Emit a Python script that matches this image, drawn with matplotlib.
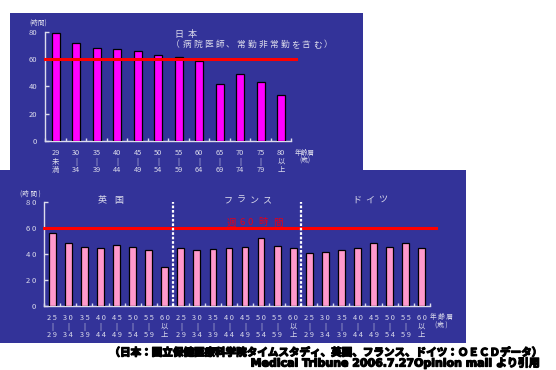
import matplotlib
matplotlib.use("Agg")
import matplotlib.pyplot as plt
import matplotlib.patheffects as pe
from matplotlib.patches import Rectangle

plt.rcParams['font.family'] = ['Noto Sans CJK JP', 'DejaVu Sans']

# ---------------- data ----------------
jp_top = ["29", "30", "35", "40", "45", "50", "55", "60", "65", "70", "75", "80"]
jp_mid = ["未", "|", "|", "|", "|", "|", "|", "|", "|", "|", "|", "以"]
jp_bot = ["満", "34", "39", "44", "49", "54", "59", "64", "69", "74", "79", "上"]
jp_hours = [79, 71.5, 68.3, 67.6, 65.6, 63.2, 61.7, 58.3, 41.7, 48.8, 43.2, 33.4]

eu_top = ["2 5", "3 0", "3 5", "4 0", "4 5", "5 0", "5 5", "6 0"]
eu_mid = ["|", "|", "|", "|", "|", "|", "|", "以"]
eu_bot = ["2 9", "3 4", "3 9", "4 4", "4 9", "5 4", "5 9", "上"]
uk_hours = [56.1, 48.6, 45.3, 44.8, 46.8, 45.3, 43.0, 29.8]
fr_hours = [44.8, 43.0, 44.2, 45.0, 45.3, 52.2, 46.5, 45.0]
de_hours = [41.2, 41.4, 43.2, 45.0, 48.4, 45.3, 48.4, 44.8]
countries = ["英国", "フランス", "ドイツ"]
limit_hours = 60
yticks = [0, 20, 40, 60, 80]

BG = '#333399'
FG = '#DCDCEC'
W, H = 556, 370

fig = plt.figure(figsize=(W / 100, H / 100), dpi=100)
fig.patch.set_facecolor('white')


def fx(x):
    return x / W


def fy(y):
    return 1 - y / H


def ptext(x, y, s, **kw):
    kw.setdefault('color', FG)
    kw.setdefault('ha', 'center')
    kw.setdefault('va', 'center')
    fig.text(fx(x), fy(y), s, **kw)


def spaced(x0, y, s, pitch, **kw):
    for i, ch in enumerate(s):
        ptext(x0 + i * pitch, y, ch, **kw)


# backgrounds
fig.add_artist(Rectangle((fx(10), fy(170)), fx(353), 157 / H, transform=fig.transFigure,
                         facecolor=BG, edgecolor='none', zorder=0))
fig.add_artist(Rectangle((fx(0), fy(343)), fx(466), 173 / H, transform=fig.transFigure,
                         facecolor=BG, edgecolor='none', zorder=0))


def style_axes(ax, n, ylabels):
    ax.set_facecolor('none')
    for s in ['top', 'right']:
        ax.spines[s].set_visible(False)
    for s in ['left', 'bottom']:
        ax.spines[s].set_color(FG)
        ax.spines[s].set_linewidth(1.0)
    ax.set_xlim(-0.5, n - 0.5)
    ax.set_ylim(0, 80)
    ax.set_yticks(yticks, ylabels)
    ax.tick_params(axis='y', direction='in', length=3, width=1, color=FG,
                   labelcolor=FG, labelsize=5.5, pad=6)
    ax.set_xticks([i + 0.5 for i in range(-1, n)], minor=True)
    ax.tick_params(axis='x', which='minor', direction='in', length=2.5, width=1, color=FG)
    ax.tick_params(axis='x', which='major', length=0, labelcolor=FG, labelsize=5.3, pad=6)


# ---------------- top: Japan ----------------
c0, pitch = 55.7, 20.5
n1 = len(jp_hours)
ax1 = fig.add_axes([fx(c0 - pitch / 2), fy(141), n1 * pitch / W, 109.3 / H])
style_axes(ax1, n1, [str(v) for v in yticks])
ax1.bar(range(n1), jp_hours, width=0.39, color='#FF00FF', edgecolor='black', linewidth=0.9, zorder=3)
ax1.set_xticks(range(n1), [f"{a}\n{b}\n{c}" for a, b, c in zip(jp_top, jp_mid, jp_bot)])
for t in ax1.get_xticklabels():
    t.set_linespacing(1.05)
ax1.plot([-0.5, 11.7], [limit_hours, limit_hours], color='#FF0000', lw=2.2, clip_on=False, zorder=4)

ptext(38, 23, "(時間)", fontsize=4.8)
spaced(179, 34, "日本", 12.7, fontsize=6.5)
spaced(175.7, 44.7, "（病院医師、常勤非常勤を含む）", 10.9, fontsize=6.3)
ptext(305, 152.5, "年齢層", fontsize=4.8)
ptext(305, 160, "(歳)", fontsize=4.8)

# ---------------- bottom: UK / France / Germany ----------------
c0b, pitchb = 52.3, 16.06
eu_hours = uk_hours + fr_hours + de_hours
n2 = len(eu_hours)
ax2 = fig.add_axes([fx(c0b - pitchb / 2), fy(306), n2 * pitchb / W, 103.7 / H])
style_axes(ax2, n2, [" ".join(str(v)) for v in yticks])
ax2.bar(range(n2), eu_hours, width=0.42, color='#FF99CC', edgecolor='black', linewidth=0.9, zorder=3)
labels2 = [f"{a}\n{b}\n{c}" for a, b, c in zip(eu_top, eu_mid, eu_bot)] * 3
ax2.set_xticks(range(n2), labels2)
for t in ax2.get_xticklabels():
    t.set_linespacing(1.05)
ax2.plot([-0.5, 23.9], [limit_hours, limit_hours], color='#FF0000', lw=2.2, clip_on=False, zorder=4)
for xb in [7.5, 15.5]:
    ax2.plot([xb, xb], [0, 80], color='white', lw=1.6, ls=(0, (1.2, 0.8)), zorder=5)

ptext(30, 194, "(時 間 )", fontsize=4.8)
spaced(101.7, 200, countries[0], 16.6, fontsize=6.5)
spaced(228, 200, countries[1], 12.9, fontsize=6.5)
spaced(356.7, 200, countries[2], 12.8, fontsize=6.5)
for ch, xx in zip(["週", "6", "0", "時", "間"], [231, 242, 250, 263, 278]):
    ptext(xx, 223, ch, fontsize=6.8, color='#E0001A')
ptext(441.5, 317, "年 齢 層", fontsize=4.8)
ptext(441.5, 325, "(歳 )", fontsize=4.8)

# ---------------- footer ----------------
heavy = [pe.withStroke(linewidth=0.9, foreground='black')]
ptext(540, 352.5, "（日本：国立保健医療科学院タイムスタディ、英国、フランス、ドイツ：ＯＥＣＤデータ）",
      fontsize=7.6, color='black', fontweight='bold', ha='right', path_effects=heavy)
ptext(540, 363, "Medical Tribune 2006.7.27Opinion mail より引用",
      fontsize=7.9, color='black', fontweight='bold', ha='right', path_effects=heavy,
      family=['DejaVu Sans', 'Noto Sans CJK JP'])

fig.savefig("out.png", dpi=100, facecolor='white')
